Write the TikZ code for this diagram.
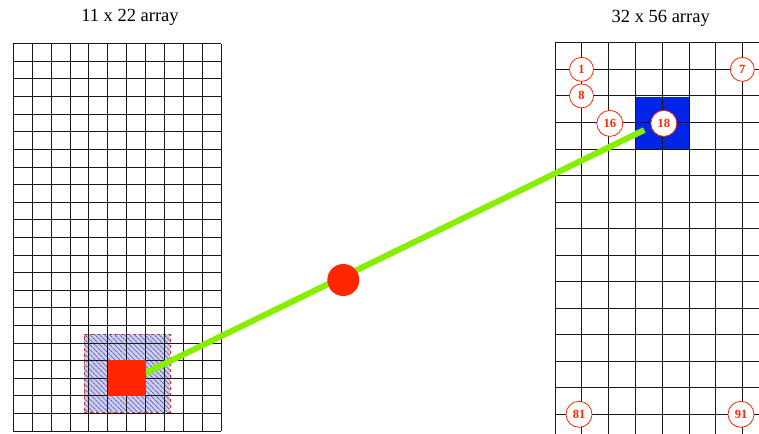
\documentclass[tikz,border=0pt]{standalone}
\usepackage{fontspec}
\setmainfont{Liberation Serif}
\usetikzlibrary{patterns.meta}
\definecolor{gridc}{RGB}{25,25,25}
\definecolor{hred}{RGB}{255,38,0}
\definecolor{hblue}{RGB}{0,36,232}
\definecolor{lgreen}{RGB}{136,238,0}
\definecolor{hatchfill}{RGB}{205,208,240}
\definecolor{hatchline}{RGB}{95,90,175}
\begin{document}
\begin{tikzpicture}[x=1pt,y=-1pt,
  gridline/.style={draw=gridc,line width=0.8pt},
  title/.style={font=\fontsize{18.5}{22}\selectfont},
  numlab/.style={circle,draw=hred,fill=white,line width=0.8pt,text=hred,font=\fontsize{12.5}{13}\selectfont\bfseries,inner sep=0pt,minimum size=24pt},
  numlab2/.style={numlab,minimum size=26pt},
  greenline/.style={draw=lgreen,line width=6pt},
  hatchbox/.style={rectangle,fill=hatchfill,postaction={pattern={Lines[angle=-45,distance=3.5pt,line width=0.7pt]},pattern color=hatchline},draw=hred,dashed,line width=0.5pt,inner sep=0pt},
  solidbox/.style={rectangle,inner sep=0pt,draw=none},
]
\useasboundingbox (0,0) rectangle (759,433);
\begin{scope}
\clip (0,0) rectangle (759,433);
% titles
\node[title] (t1) at (130,17.5) {11 x 22 array};
\node[title] (t2) at (660.7,18.5) {32 x 56 array};
% hatched region
\node[hatchbox,minimum width=86pt,minimum height=78.3pt] (hb) at (127,373.2) {};
% blue square
\node[solidbox,fill=hblue,minimum width=53.4pt,minimum height=53.1pt] (bs) at (662.7,123.3) {};
% left grid 11 x 22
\foreach \i in {0,...,11} \draw[gridline] ({13.3+\i*18.88},43.7) -- ({13.3+\i*18.88},430.9);
\foreach \j in {0,...,22} \draw[gridline] (13.3,{43.7+\j*17.6}) -- (221,{43.7+\j*17.6});
% right grid
\foreach \i in {0,...,8} \draw[gridline] ({555+\i*26.8},42.7) -- ({555+\i*26.8},460);
\foreach \j in {0,...,15} \draw[gridline] (555,{42.7+\j*26.55}) -- (780,{42.7+\j*26.55});
% connector
\coordinate (ls) at (140,375.7);
\coordinate (le) at (644.3,130);
\draw[greenline] (ls) -- (le);
% red square
\node[solidbox,fill=hred,minimum width=37.8pt,minimum height=35.4pt] (rs) at (126.6,378.1) {};
% red dot
\node[circle,fill=hred,inner sep=0pt,minimum size=32pt] (dot) at (343.3,280) {};
% labels
\node[numlab] (n1) at (581.5,69.4) {1};
\node[numlab] (n7) at (742.3,69.4) {7};
\node[numlab] (n8) at (581.5,95.9) {8};
\node[numlab2] (n16) at (609.8,123.4) {16};
\node[numlab2] (n18) at (663.8,123.4) {18};
\node[numlab2] (n81) at (579,414.3) {81};
\node[numlab2] (n91) at (741,414.3) {91};
\end{scope}
\end{tikzpicture}
\end{document}
